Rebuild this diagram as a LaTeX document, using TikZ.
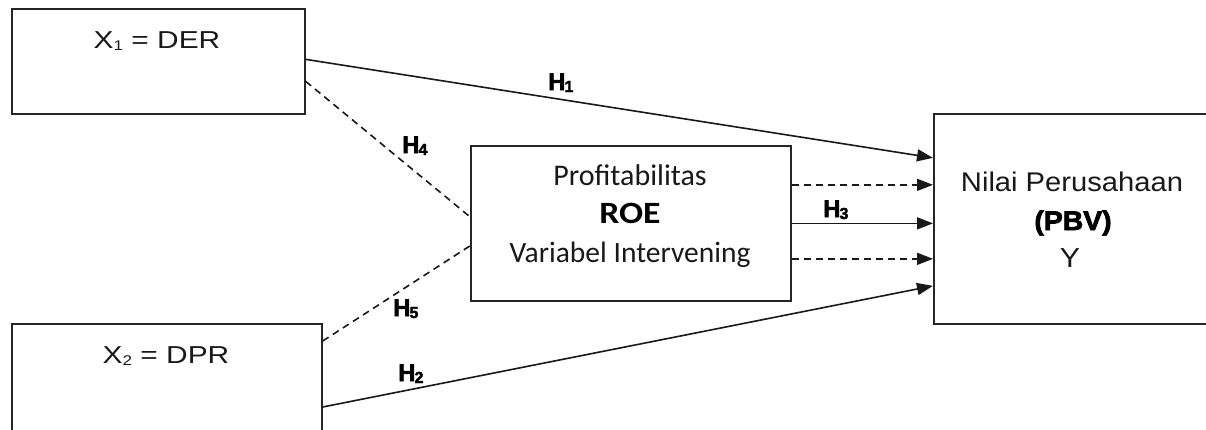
\documentclass[tikz,border=0pt]{standalone}
\usepackage{fontspec}
\setmainfont{Liberation Sans}
\newfontfamily\calibri{Carlito}
\newfontfamily\heavy[FakeBold=2.5]{Liberation Sans}
\usetikzlibrary{arrows.meta}
\begin{document}
\begin{tikzpicture}[x=1pt,y=-1pt,
  box/.style={draw=black!85, line width=1.7pt, inner sep=0pt, anchor=north west},
  link/.style={line width=1.6pt, draw=black!90},
  conn/.style={link, -{Triangle[length=16pt,width=12pt]}},
  dashline/.style={dash pattern=on 7pt off 5pt},
  txt/.style={anchor=base, inner sep=0pt, text=black!90},
  hlab/.style={anchor=base west, inner sep=0pt, text=black, font=\heavy\bfseries\fontsize{24}{24}\selectfont}]
\useasboundingbox (0,0) rectangle (1206,429);
\clip (0,0) rectangle (1206,429);
\fill[white] (0,0) rectangle (1206,429);

% boxes
\node[box, minimum width=293pt, minimum height=105pt] (x1) at (11,8) {};
\node[box, minimum width=310pt, minimum height=130pt] (x2) at (11,323) {};
\node[box, minimum width=320pt, minimum height=155pt] (roe) at (470,145) {};
\node[box, minimum width=300pt, minimum height=210pt] (y) at (933,113) {};

% box texts
\node[txt, xscale=1.22, font=\fontsize{24.5}{25}\selectfont] (x1t) at (157,48)
  {X\raisebox{-2pt}{\fontsize{14}{14}\selectfont 1} = DER};
\node[txt, xscale=1.22, font=\fontsize{24.5}{25}\selectfont] (x2t) at (166,363)
  {X\raisebox{-2pt}{\fontsize{14}{14}\selectfont 2} = DPR};

\node[txt, font=\calibri\fontsize{30}{30}\selectfont] (roe1) at (630,185) {Profitabilitas};
\node[txt, xscale=1.15, text=black, font=\calibri\bfseries\fontsize{31}{31}\selectfont] (roe2) at (630,223) {ROE};
\node[txt, font=\calibri\fontsize{29.5}{30}\selectfont] (roe3) at (630,262) {Variabel Intervening};

\node[txt, xscale=1.08, font=\fontsize{27}{27}\selectfont] (y1) at (1072,191) {Nilai Perusahaan};
\node[txt, xscale=1.05, text=black, font=\heavy\bfseries\fontsize{27}{27}\selectfont] (y2) at (1073,230) {(PBV)};
\node[txt, xscale=1.1, font=\fontsize{27.5}{27}\selectfont] (y3) at (1070,267) {Y};

% connectors
\draw[conn] ([yshift=2pt]x1.east) -- ([yshift=61pt]y.west);
\draw[link, dashline] ([yshift=-20pt]x1.east) -- ([yshift=6.5pt]roe.west);
\draw[link, dashline] ([yshift=-18pt]x2.north east) -- ([yshift=-22.5pt]roe.west);
\draw[conn] ([yshift=-84pt]x2.north east) -- ([yshift=-67pt]y.west);

\coordinate (d1) at ([yshift=38.5pt]roe.east);
\coordinate (d2) at ([yshift=-35.5pt]roe.east);
\draw[conn, dashline] (d1) -- (d1 -| y.west);
\draw[conn] (roe.east) -- (roe.east -| y.west);
\draw[conn, dashline] (d2) -- (d2 -| y.west);

% path labels
\node[hlab] (h1) at (548,90) {H\kern-1pt\raisebox{-2pt}{\fontsize{16}{16}\selectfont 1}};
\node[hlab] (h2) at (398,381) {H\kern-1pt\raisebox{-2pt}{\fontsize{16}{16}\selectfont 2}};
\node[hlab] (h3) at (823,217) {H\kern-1pt\raisebox{-2pt}{\fontsize{16}{16}\selectfont 3}};
\node[hlab] (h4) at (402,153) {H\kern-1pt\raisebox{-2pt}{\fontsize{16}{16}\selectfont 4}};
\node[hlab] (h5) at (393,316) {H\kern-1pt\raisebox{-2pt}{\fontsize{16}{16}\selectfont 5}};
\end{tikzpicture}
\end{document}
